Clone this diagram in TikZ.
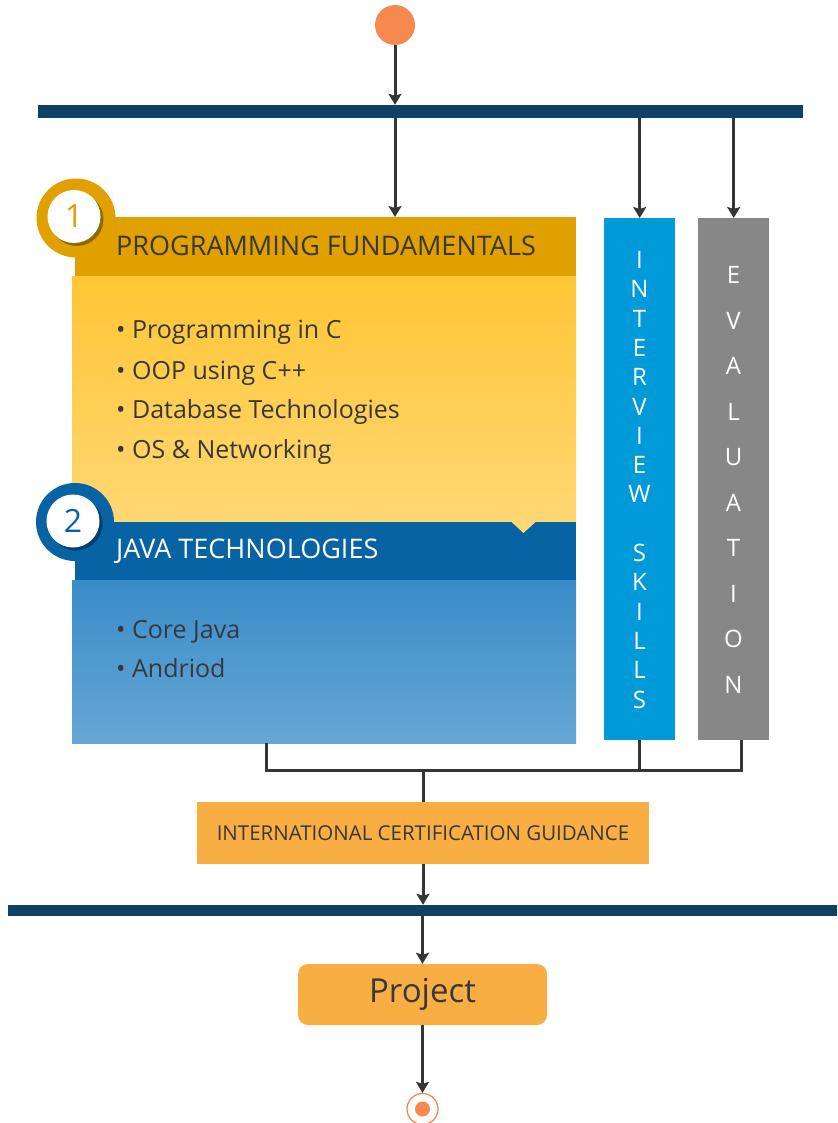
\documentclass[tikz,border=0pt]{standalone}
\usepackage{fontspec}
\setmainfont{Open Sans}
\usepackage{tikz}
\usetikzlibrary{arrows,arrows.meta,shapes,positioning,shadows}
\usepackage{xcolor}
\definecolor{pfgold}{RGB}{224,160,0}
\definecolor{pfyellow}{RGB}{255,197,52}
\definecolor{pflight}{RGB}{255,215,115}
\definecolor{jtblue}{RGB}{7,99,163}
\definecolor{jtmid}{RGB}{58,140,200}
\definecolor{jtlight}{RGB}{101,167,212}
\definecolor{iscyan}{RGB}{0,154,217}
\definecolor{evgray}{RGB}{135,135,135}
\definecolor{barnavy}{RGB}{14,65,102}
\definecolor{dotorange}{RGB}{245,138,80}
\definecolor{certorange}{RGB}{248,174,66}
\definecolor{txtdark}{RGB}{55,55,60}
\definecolor{linedark}{RGB}{55,52,55}
\tikzstyle{arrow} = [line width=3pt,-{Stealth[length=11pt,width=13pt,inset=2pt]},color=linedark]
\tikzstyle{link} = [line width=3pt,color=linedark]
\tikzstyle{bar} = [fill=barnavy,inner sep=0,minimum height=13pt]
\tikzstyle{panel} = [inner sep=0,anchor=north west]
\tikzstyle{item} = [anchor=base west,inner sep=0,text=txtdark,font=\fontsize{25}{29}\selectfont]
\tikzstyle{colletter} = [inner sep=0,text=white,font=\fontsize{24}{28}\selectfont]

\begin{document}
\begin{tikzpicture}[x=1pt,y=-1pt]
\useasboundingbox (0,0) rectangle (837,1123);

% Start and top bar
\node[circle, fill=dotorange, minimum size=40pt, inner sep=0] (start) at (395,25) {};
\node[bar, minimum width=765pt, anchor=west] (bartop) at (38,111.5) {};
\draw[arrow] (start) -- (start |- bartop.north);

% Programming fundamentals
\node[panel, fill=pfgold, minimum width=501pt, minimum height=59pt] (pfhead) at (75,217) {};
\node[panel, top color=pfyellow, bottom color=pflight, minimum width=504pt, minimum height=246pt] (pfbody) at (72,276) {};
\node[anchor=west, inner sep=0, text=txtdark, font=\fontsize{27}{31}\selectfont] (pftitle) at (116,246) {PROGRAMMING FUNDAMENTALS};
\node[item] (pfone) at (116,338) {\textbullet\ Programming in C};
\node[item] (pftwo) at (116,379) {\textbullet\ OOP using C++};
\node[item] (pfthree) at (116,418) {\textbullet\ Database Technologies};
\node[item] (pffour) at (116,458) {\textbullet\ OS \& Networking};

% Java technologies
\node[panel, fill=jtblue, minimum width=501pt, minimum height=58pt] (jthead) at (75,522) {};
\node[panel, top color=jtmid, bottom color=jtlight, minimum width=504pt, minimum height=163pt] (jtbody) at (72,580) {};
\fill[pflight] (511,521.5) -- (536,521.5) -- (523.5,533) -- cycle;
\node[anchor=west, inner sep=0, text=white, font=\fontsize{27}{31}\selectfont] (jttitle) at (116,551) {JAVA TECHNOLOGIES};
\node[item] (jtone) at (116,638) {\textbullet\ Core Java};
\node[item] (jttwo) at (116,677) {\textbullet\ Andriod};

% Badges
\node[circle, fill=pfgold, minimum size=79pt, inner sep=0] (badgeone) at (76,218) {};
\node[circle, fill=white, minimum size=53pt, inner sep=0, text=pfgold, font=\fontsize{32}{36}\selectfont,
      drop shadow={shadow xshift=3pt, shadow yshift=-3pt, fill=black, opacity=0.35}] (numone) at (74,216.5) {1};
\node[circle, fill=jtblue, minimum size=78pt, inner sep=0] (badgetwo) at (75,522) {};
\node[circle, fill=white, minimum size=53pt, inner sep=0, text=jtblue, font=\fontsize{32}{36}\selectfont,
      drop shadow={shadow xshift=3pt, shadow yshift=-3pt, fill=black, opacity=0.35}] (numtwo) at (73,521) {2};

% Side columns
\node[panel, fill=iscyan, minimum width=71pt, minimum height=522pt] (iscol) at (604,218) {};
\node[panel, fill=evgray, minimum width=71pt, minimum height=522pt] (evcol) at (698,218) {};
\foreach \ch/\k in {I/0,N/1,T/2,E/3,R/4,V/5,I/6,E/7,W/8,S/10,K/11,I/12,L/13,L/14,S/15}
  \node[colletter] (is\k) at (639.5,260+29.3*\k) {\ch};
\foreach \ch/\k in {E/0,V/1,A/2,L/3,U/4,A/5,T/6,I/7,O/8,N/9}
  \node[colletter] (ev\k) at (733.5,275+45.5*\k) {\ch};

% Arrows from the bar
\draw[arrow] (start |- bartop.south) -- (start |- pfhead.north);
\draw[arrow] (iscol.north |- bartop.south) -- (iscol.north);
\draw[arrow] (evcol.north |- bartop.south) -- (evcol.north);

% Join
\coordinate (jleft) at (266,770);
\coordinate (jright) at (741,770);
\node[fill=certorange, minimum width=452pt, minimum height=62pt, inner sep=0, text=txtdark,
      font=\fontsize{20.5}{24}\selectfont] (cert) at (423,833) {INTERNATIONAL CERTIFICATION GUIDANCE};
\draw[link] (jtbody.south -| jleft) -- (jleft) -- (jright) -- (evcol.south -| jright);
\draw[link] (iscol.south) -- (iscol.south |- jleft);
\draw[link] (cert.north |- jleft) -- (cert.north);

% Bottom bar and project
\node[bar, minimum width=829pt, minimum height=11pt, anchor=west] (barbottom) at (8,910.5) {};
\draw[arrow] (cert.south) -- (cert.south |- barbottom.north);
\node[rounded corners=10pt, fill=certorange, minimum width=249pt, minimum height=61pt, inner sep=0,
      text=txtdark, font=\fontsize{33}{38}\selectfont] (project) at (422.5,994.5) {Project};
\draw[arrow] (project.north |- barbottom.south) -- (project.north);

% End
\node[circle, draw=dotorange, line width=1.3pt, minimum size=31pt, inner sep=0] (finish) at (422.5,1109) {};
\node[circle, fill=dotorange, minimum size=15pt, inner sep=0] (finishdot) at (finish) {};
\draw[arrow] (project) -- (finish);
\end{tikzpicture}
\end{document}
